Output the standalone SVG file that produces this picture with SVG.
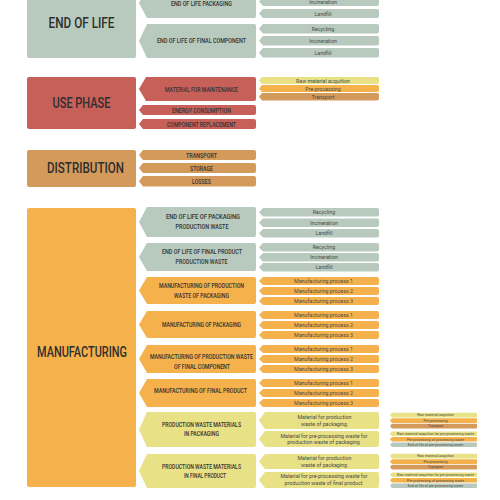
<svg xmlns="http://www.w3.org/2000/svg" width="500" height="500" viewBox="0 0 500 500">
<style>
.sage{fill:#b8cabd}.red{fill:#c8605a}.tan{fill:#d49a5c}.org{fill:#f5b14b}.yel{fill:#e8e185}
text{font-family:Roboto,"DejaVu Sans",sans-serif;fill:#3a3a3a;text-anchor:middle}
.t{font-size:15.5px;font-weight:500;fill:#2e2e2e}
.m{font-size:7.2px;font-weight:500;fill:#333333}
.s{font-size:5.3px;fill:#4a4a4a}
.xs{font-size:3.6px;fill:#4a4a4a}
</style>
<rect width="500" height="500" fill="#ffffff"/>
<g id="connectors"/>

<!-- END OF LIFE -->
<g id="end-of-life">
<rect class="sage" x="27" y="-14" width="109" height="72" rx="2"/>
<text class="t" x="81.5" y="28" textLength="66" lengthAdjust="spacingAndGlyphs">END OF LIFE</text>
</g>
<g id="eol-packaging">
<path class="sage" d="M139,3 l8,-15 h107 q2,0 2,2 v26 q0,2 -2,2 h-107 z"/>
<text class="m" x="201.5" y="5.5" textLength="61" lengthAdjust="spacingAndGlyphs">END OF LIFE PACKAGING</text>
<path class="sage" d="M259,-10.5 l4,-4.5 h114 q2,0 2,2 v5 q0,2 -2,2 h-114 z"/>
<text class="s" x="323" y="-8.5">Recycling</text>
<path class="sage" d="M259,1.5 l4,-4.5 h114 q2,0 2,2 v5 q0,2 -2,2 h-114 z"/>
<text class="s" x="323" y="4.2">Incineration</text>
<path class="sage" d="M259,13.5 l4,-4.5 h114 q2,0 2,2 v5 q0,2 -2,2 h-114 z"/>
<text class="s" x="323" y="15.5">Landfill</text>
</g>
<g id="eol-final-component">
<path class="sage" d="M139,41 l8,-17 h107 q2,0 2,2 v30 q0,2 -2,2 h-107 z"/>
<text class="m" x="201.5" y="42.5" textLength="89" lengthAdjust="spacingAndGlyphs">END OF LIFE OF FINAL COMPONENT</text>
<path class="sage" d="M259,28.75 l4,-4.75 h114 q2,0 2,2 v5.5 q0,2 -2,2 h-114 z"/>
<text class="s" x="323" y="30.75">Recycling</text>
<path class="sage" d="M259,40.75 l4,-4.75 h114 q2,0 2,2 v5.5 q0,2 -2,2 h-114 z"/>
<text class="s" x="323" y="42.75">Incineration</text>
<path class="sage" d="M259,52.75 l4,-4.75 h114 q2,0 2,2 v5.5 q0,2 -2,2 h-114 z"/>
<text class="s" x="323" y="54.75">Landfill</text>
</g>

<!-- USE PHASE -->
<g id="use-phase">
<rect class="red" x="27" y="77" width="109" height="52" rx="2"/>
<text class="t" x="81.5" y="108" textLength="58" lengthAdjust="spacingAndGlyphs">USE PHASE</text>
</g>
<g id="material-maintenance">
<path class="red" d="M139,89 l7,-12 h108 q2,0 2,2 v20 q0,2 -2,2 h-108 z"/>
<text class="m" x="201.5" y="91.5" textLength="73" lengthAdjust="spacingAndGlyphs">MATERIAL FOR MAINTENANCE</text>
<path class="yel" d="M259,80.5 l3,-3.5 h115 q2,0 2,2 v3 q0,2 -2,2 h-115 z"/>
<text class="s" x="323" y="82.5">Raw material acquition</text>
<path class="org" d="M259,88.5 l3,-3.5 h115 q2,0 2,2 v3 q0,2 -2,2 h-115 z"/>
<text class="s" x="323" y="90.5">Pre-processing</text>
<path class="tan" d="M259,96.75 l3,-3.75 h115 q2,0 2,2 v3.5 q0,2 -2,2 h-115 z"/>
<text class="s" x="323" y="98.75">Transport</text>
</g>
<g id="energy-consumption">
<path class="red" d="M139,110 l4,-5 h111 q2,0 2,2 v6 q0,2 -2,2 h-111 z"/>
<text class="m" x="201.5" y="112.6" textLength="59" lengthAdjust="spacingAndGlyphs">ENERGY CONSUMPTION</text>
</g>
<g id="component-replacement">
<path class="red" d="M139,124 l4,-5 h111 q2,0 2,2 v6 q0,2 -2,2 h-111 z"/>
<text class="m" x="201.5" y="126.6" textLength="69" lengthAdjust="spacingAndGlyphs">COMPONENT REPLACEMENT</text>
</g>

<!-- DISTRIBUTION -->
<g id="distribution">
<rect class="tan" x="27" y="150" width="109" height="37" rx="2"/>
<text class="t" x="85.5" y="173" textLength="77" lengthAdjust="spacingAndGlyphs">DISTRIBUTION</text>
</g>
<g id="dist-transport">
<path class="tan" d="M139,155 l4,-5 h111 q2,0 2,2 v6 q0,2 -2,2 h-111 z"/>
<text class="m" x="201.5" y="157.6" textLength="31" lengthAdjust="spacingAndGlyphs">TRANSPORT</text>
</g>
<g id="dist-storage">
<path class="tan" d="M139,168 l4,-5 h111 q2,0 2,2 v6 q0,2 -2,2 h-111 z"/>
<text class="m" x="201.5" y="170.6" textLength="23" lengthAdjust="spacingAndGlyphs">STORAGE</text>
</g>
<g id="dist-losses">
<path class="tan" d="M139,181.25 l4,-5.25 h111 q2,0 2,2 v6.5 q0,2 -2,2 h-111 z"/>
<text class="m" x="201.5" y="183.8" textLength="19" lengthAdjust="spacingAndGlyphs">LOSSES</text>
</g>

<!-- MANUFACTURING -->
<g id="manufacturing">
<rect class="org" x="27" y="208" width="109" height="279" rx="2"/>
<text class="t" x="82" y="357.3" textLength="90" lengthAdjust="spacingAndGlyphs">MANUFACTURING</text>
</g>
<g id="eol-packaging-production-waste">
<path class="sage" d="M139,222 l8,-15 h107 q2,0 2,2 v26 q0,2 -2,2 h-107 z"/>
<text class="m" x="203" y="219.2" textLength="74" lengthAdjust="spacingAndGlyphs">END OF LIFE OF PACKAGING</text>
<text class="m" x="202" y="229" textLength="53" lengthAdjust="spacingAndGlyphs">PRODUCTION WASTE</text>
<path class="sage" d="M259,212.25 l4,-4.25 h114 q2,0 2,2 v4.5 q0,2 -2,2 h-114 z"/>
<text class="s" x="324" y="214.25">Recycling</text>
<path class="sage" d="M259,222.75 l4,-4.25 h114 q2,0 2,2 v4.5 q0,2 -2,2 h-114 z"/>
<text class="s" x="324" y="224.75">Incineration</text>
<path class="sage" d="M259,233.25 l4,-4.25 h114 q2,0 2,2 v4.5 q0,2 -2,2 h-114 z"/>
<text class="s" x="324" y="235.25">Landfill</text>
</g>
<g id="eol-final-product-production-waste">
<path class="sage" d="M139,257 l8,-14 h107 q2,0 2,2 v24 q0,2 -2,2 h-107 z"/>
<text class="m" x="202" y="254.2" textLength="80" lengthAdjust="spacingAndGlyphs">END OF LIFE OF FINAL PRODUCT</text>
<text class="m" x="201.5" y="263.6" textLength="52" lengthAdjust="spacingAndGlyphs">PRODUCTION WASTE</text>
<path class="sage" d="M259,247.25 l4,-4.25 h114 q2,0 2,2 v4.5 q0,2 -2,2 h-114 z"/>
<text class="s" x="324" y="249.25">Recycling</text>
<path class="sage" d="M259,257.25 l4,-4.25 h114 q2,0 2,2 v4.5 q0,2 -2,2 h-114 z"/>
<text class="s" x="324" y="259.25">Incineration</text>
<path class="sage" d="M259,267.25 l4,-4.25 h114 q2,0 2,2 v4.5 q0,2 -2,2 h-114 z"/>
<text class="s" x="324" y="269.25">Landfill</text>
</g>
<g id="mfg-production-waste-packaging">
<path class="org" d="M139,290.5 l8,-13.5 h107 q2,0 2,2 v23 q0,2 -2,2 h-107 z"/>
<text class="m" x="201.5" y="288.2" textLength="85" lengthAdjust="spacingAndGlyphs">MANUFACTURING OF PRODUCTION</text>
<text class="m" x="201.5" y="298" textLength="55" lengthAdjust="spacingAndGlyphs">WASTE OF PACKAGING</text>
<path class="org" d="M259,281 l4,-4 h114 q2,0 2,2 v4 q0,2 -2,2 h-114 z"/>
<text class="s" x="323.5" y="283">Manufacturing process 1</text>
<path class="org" d="M259,291 l4,-4 h114 q2,0 2,2 v4 q0,2 -2,2 h-114 z"/>
<text class="s" x="323.5" y="293">Manufacturing process 2</text>
<path class="org" d="M259,301 l4,-4 h114 q2,0 2,2 v4 q0,2 -2,2 h-114 z"/>
<text class="s" x="323.5" y="303">Manufacturing process 3</text>
</g>
<g id="mfg-packaging">
<path class="org" d="M139,324.5 l8,-13.5 h107 q2,0 2,2 v23 q0,2 -2,2 h-107 z"/>
<text class="m" x="201.5" y="326.6" textLength="79" lengthAdjust="spacingAndGlyphs">MANUFACTURING OF PACKAGING</text>
<path class="org" d="M259,315 l4,-4 h114 q2,0 2,2 v4 q0,2 -2,2 h-114 z"/>
<text class="s" x="323.5" y="317">Manufacturing process 1</text>
<path class="org" d="M259,325 l4,-4 h114 q2,0 2,2 v4 q0,2 -2,2 h-114 z"/>
<text class="s" x="323.5" y="327">Manufacturing process 2</text>
<path class="org" d="M259,335 l4,-4 h114 q2,0 2,2 v4 q0,2 -2,2 h-114 z"/>
<text class="s" x="323.5" y="337">Manufacturing process 3</text>
</g>
<g id="mfg-production-waste-final-component">
<path class="org" d="M139,359 l8,-14 h107 q2,0 2,2 v24 q0,2 -2,2 h-107 z"/>
<text class="m" x="201.5" y="358.8" textLength="103" lengthAdjust="spacingAndGlyphs">MANUFACTURING OF PRODUCTION WASTE</text>
<text class="m" x="202" y="368.6" textLength="56" lengthAdjust="spacingAndGlyphs">OF FINAL COMPONENT</text>
<path class="org" d="M259,349 l4,-4 h114 q2,0 2,2 v4 q0,2 -2,2 h-114 z"/>
<text class="s" x="323.5" y="351">Manufacturing process 1</text>
<path class="org" d="M259,359 l4,-4 h114 q2,0 2,2 v4 q0,2 -2,2 h-114 z"/>
<text class="s" x="323.5" y="361">Manufacturing process 2</text>
<path class="org" d="M259,369 l4,-4 h114 q2,0 2,2 v4 q0,2 -2,2 h-114 z"/>
<text class="s" x="323.5" y="371">Manufacturing process 3</text>
</g>
<g id="mfg-final-product">
<path class="org" d="M139,393 l8,-14 h107 q2,0 2,2 v24 q0,2 -2,2 h-107 z"/>
<text class="m" x="200.5" y="393.4" textLength="93" lengthAdjust="spacingAndGlyphs">MANUFACTURING OF FINAL PRODUCT</text>
<path class="org" d="M259,383 l4,-4 h114 q2,0 2,2 v4 q0,2 -2,2 h-114 z"/>
<text class="s" x="323.5" y="385">Manufacturing process 1</text>
<path class="org" d="M259,393 l4,-4 h114 q2,0 2,2 v4 q0,2 -2,2 h-114 z"/>
<text class="s" x="323.5" y="395">Manufacturing process 2</text>
<path class="org" d="M259,403 l4,-4 h114 q2,0 2,2 v4 q0,2 -2,2 h-114 z"/>
<text class="s" x="323.5" y="405">Manufacturing process 3</text>
</g>
<g id="production-waste-materials-packaging">
<path class="yel" d="M139,429.5 l8,-17.5 h107 q2,0 2,2 v31 q0,2 -2,2 h-107 z"/>
<text class="m" x="201.5" y="427.2" textLength="79" lengthAdjust="spacingAndGlyphs">PRODUCTION WASTE MATERIALS</text>
<text class="m" x="201.5" y="436.2" textLength="35" lengthAdjust="spacingAndGlyphs">IN PACKAGING</text>
<path class="yel" d="M259,420.5 l6,-8.5 h112 q2,0 2,2 v13 q0,2 -2,2 h-112 z"/>
<text class="s" x="324.5" y="419">Material for production</text>
<text class="s" x="324" y="425.5">waste of packaging</text>
<path class="yel" d="M259,439 l6,-8 h112 q2,0 2,2 v12 q0,2 -2,2 h-112 z"/>
<text class="s" x="324" y="437.5">Material for pre-processing waste for</text>
<text class="s" x="323.5" y="443.8">production waste of packaging</text>
<path class="yel" d="M390,415.1 l2,-2.3 h84 q1,0 1,1 v2.6 q0,1 -1,1 h-84 z"/>
<text class="xs" x="435.5" y="416.4">Raw material acquition</text>
<path class="org" d="M390,420.6 l2,-2.3 h84 q1,0 1,1 v2.6 q0,1 -1,1 h-84 z"/>
<text class="xs" x="435.5" y="421.9">Pre-processing</text>
<path class="tan" d="M390,426.1 l2,-2.3 h84 q1,0 1,1 v2.6 q0,1 -1,1 h-84 z"/>
<text class="xs" x="435.5" y="427.4">Transport</text>
<path class="yel" d="M390,433.8 l2,-2.3 h84 q1,0 1,1 v2.6 q0,1 -1,1 h-84 z"/>
<text class="xs" x="435.5" y="435.1">Raw material acquition for pre-processing waste</text>
<path class="org" d="M390,439.3 l2,-2.3 h84 q1,0 1,1 v2.6 q0,1 -1,1 h-84 z"/>
<text class="xs" x="435.5" y="440.6">Pre-processing of processing waste</text>
<path class="sage" d="M390,444.8 l2,-2.3 h84 q1,0 1,1 v2.6 q0,1 -1,1 h-84 z"/>
<text class="xs" x="435.5" y="446.1">End of life of pre-processing waste</text>
</g>
<g id="production-waste-materials-final-product">
<path class="yel" d="M139,471 l8,-17 h107 q2,0 2,2 v30 q0,2 -2,2 h-107 z"/>
<text class="m" x="201.5" y="469.2" textLength="79" lengthAdjust="spacingAndGlyphs">PRODUCTION WASTE MATERIALS</text>
<text class="m" x="205" y="478.2" textLength="42" lengthAdjust="spacingAndGlyphs">IN FINAL PRODUCT</text>
<path class="yel" d="M259,461.5 l6,-7.5 h112 q2,0 2,2 v11 q0,2 -2,2 h-112 z"/>
<text class="s" x="324.5" y="460.2">Material for production</text>
<text class="s" x="324" y="466.6">waste of packaging</text>
<path class="yel" d="M259,480 l6,-8 h112 q2,0 2,2 v12 q0,2 -2,2 h-112 z"/>
<text class="s" x="324" y="478.3">Material for pre-processing waste for</text>
<text class="s" x="323.5" y="484.6">production waste of final product</text>
<path class="yel" d="M390,456.1 l2,-2.3 h84 q1,0 1,1 v2.6 q0,1 -1,1 h-84 z"/>
<text class="xs" x="435.5" y="457.4">Raw material acquition</text>
<path class="org" d="M390,461.6 l2,-2.3 h84 q1,0 1,1 v2.6 q0,1 -1,1 h-84 z"/>
<text class="xs" x="435.5" y="462.9">Pre-processing</text>
<path class="tan" d="M390,467.1 l2,-2.3 h84 q1,0 1,1 v2.6 q0,1 -1,1 h-84 z"/>
<text class="xs" x="435.5" y="468.4">Transport</text>
<path class="yel" d="M390,474.8 l2,-2.3 h84 q1,0 1,1 v2.6 q0,1 -1,1 h-84 z"/>
<text class="xs" x="435.5" y="476.1">Raw material acquition for pre-processing waste</text>
<path class="org" d="M390,480.3 l2,-2.3 h84 q1,0 1,1 v2.6 q0,1 -1,1 h-84 z"/>
<text class="xs" x="435.5" y="481.6">Pre-processing of processing waste</text>
<path class="sage" d="M390,485.8 l2,-2.3 h84 q1,0 1,1 v2.6 q0,1 -1,1 h-84 z"/>
<text class="xs" x="435.5" y="487.1">End of life of pre-processing waste</text>
</g>
</svg>
